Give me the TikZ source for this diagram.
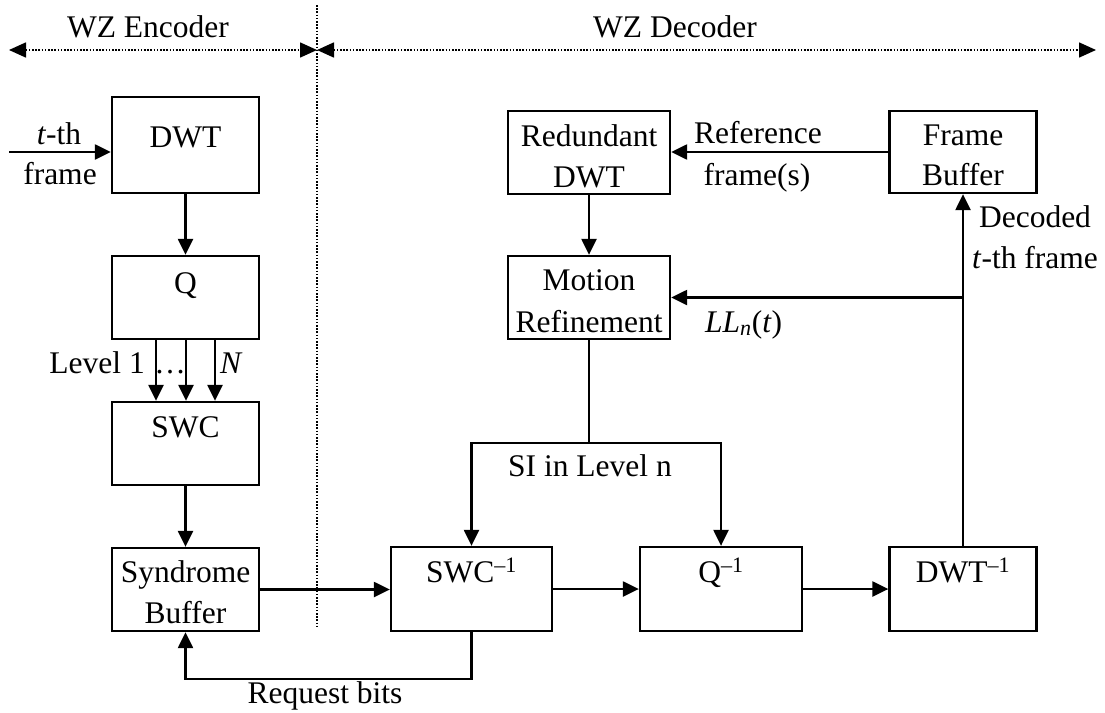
\documentclass[tikz,border=0pt]{standalone}
\usepackage{fontspec}
\setmainfont{Liberation Serif}
\usetikzlibrary{arrows.meta}
\begin{document}
\begin{tikzpicture}[x=1pt,y=1pt,
  font=\fontsize{31.5}{40}\selectfont,
  blk/.style={draw, line width=2.3pt, inner sep=0pt, minimum height=83pt},
  lbl/.style={anchor=base, inner sep=0pt},
  wire/.style={line width=2.3pt},
  arr/.style={line width=2.3pt, -{Triangle[length=16pt,width=15pt]}},
  zone/.style={line width=1.6pt, dash pattern=on 1.6pt off 1.6pt,
    {Triangle[length=17pt,width=15pt]}-{Triangle[length=17pt,width=15pt]}},
  divider/.style={line width=1.6pt, dash pattern=on 1.6pt off 1.6pt}]
\useasboundingbox (0,0) rectangle (1105,-712);

% encoder / decoder extents
\coordinate (zl) at (9,-50);
\coordinate (zm) at (317,-50);
\coordinate (zr) at (1096,-50);
\draw[zone] (zl) -- (zm);
\draw[zone] (zm) -- (zr);
\coordinate (dtop) at (317,-5);
\coordinate (dbot) at (317,-628);
\draw[divider] (dtop) -- (dbot);
\node[lbl] (enc) at (148,-37) {WZ Encoder};
\node[lbl] (dec) at (675,-37) {WZ Decoder};

% encoder blocks
\node[blk, minimum width=147pt, minimum height=96pt] (dwt) at (185.5,-145) {};
\node[blk, minimum width=147pt] (q)   at (185.5,-297.5) {};
\node[blk, minimum width=147pt] (swc) at (185.5,-443.5) {};
\node[blk, minimum width=147pt] (syn) at (185.5,-589.5) {};

\node[lbl] (dwtT) at (185.5,-147) {DWT};
\node[lbl] (qT)   at (185.5,-293) {Q};
\node[lbl] (swcT) at (185.5,-437) {SWC};
\node[lbl] (synT) at (185.5,-582) {Syndrome};
\node[lbl] (synB) at (185.5,-623) {Buffer};

% decoder blocks
\node[blk, minimum width=161pt, minimum height=84pt] (iswc) at (471.5,-589) {};
\node[blk, minimum width=162pt, minimum height=84pt] (iq)   at (721,-589) {};
\node[blk, minimum width=147pt, minimum height=84pt] (idwt) at (963,-589) {};
\node[blk, minimum width=162pt] (rdwt) at (589,-152.5) {};
\node[blk, minimum width=162pt] (mr)   at (589,-297.5) {};
\node[blk, minimum width=147pt, minimum height=82pt] (fb) at (963,-152) {};

\node[lbl] (iswcT) at (471.5,-582) {SWC\textsuperscript{–1}};
\node[lbl] (iqT)   at (721,-582) {Q\textsuperscript{–1}};
\node[lbl] (idwtT) at (963,-582) {DWT\textsuperscript{–1}};
\node[lbl] (rdwtT) at (589,-146) {Redundant};
\node[lbl] (rdwtB) at (589,-187) {DWT};
\node[lbl] (mrT)   at (589,-290) {Motion};
\node[lbl] (mrB)   at (589,-332) {Refinement};
\node[lbl] (fbT)   at (963,-145) {Frame};
\node[lbl] (fbB)   at (963,-185) {Buffer};

% encoder connectors
\coordinate (src) at (9,-152);
\draw[arr] (src) -- (src -| dwt.west);
\node[lbl] (srcT) at (59,-144) {\textit{t}-th};
\node[lbl] (srcB) at (60,-184) {frame};
\draw[arr] (dwt.south) -- (q.north);
\draw[arr] ([xshift=-29.5pt]q.south) -- ([xshift=-29.5pt]swc.north);
\draw[arr] ([xshift=0.5pt]q.south) -- ([xshift=0.5pt]swc.north);
\draw[arr] ([xshift=29.5pt]q.south) -- ([xshift=29.5pt]swc.north);
\node[lbl, anchor=base east] (lv1) at (145,-373) {Level 1};
\node[lbl] (lvd) at (170,-373) {…};
\node[lbl, anchor=base west] (lvN) at (220,-373) {\textit{N}};
\draw[arr] (swc.south) -- (syn.north);
\draw[arr] (syn.east) -- (syn.east -| iswc.west);

% request bits feedback
\coordinate (rqy) at (0,-679);
\coordinate (rq) at (iswc.south |- rqy);
\draw[arr] (iswc.south) -- (rq) -| (syn.south);
\node[lbl] (rqT) at (325,-703) {Request bits};

% decoder connectors
\draw[arr] (iswc.east) -- (iswc.east -| iq.west);
\draw[arr] (iq.east) -- (iq.east -| idwt.west);
\draw[arr] (idwt.north) -- (fb.south);
\node[lbl] (decT) at (1035,-227) {Decoded};
\node[lbl] (decB) at (1035,-268) {\textit{t}-th frame};
\coordinate (jn) at (idwt.north |- mr.east);
\draw[arr] (jn) -- (mr.east);
\node[lbl, anchor=base west] (llT) at (705,-332) {\textit{LL}\textsubscript{\textit{n}}(\textit{t})};
\draw[arr] (fb.west) -- (fb.west -| rdwt.east);
\node[lbl] (refT) at (758,-143) {Reference};
\node[lbl] (refB) at (757,-185) {frame(s)};
\draw[arr] (rdwt.south) -- (mr.north);

% side information split
\coordinate (siy) at (0,-443);
\coordinate (si) at (mr.south |- siy);
\draw[wire] (mr.south) -- (si);
\draw[arr] (si) -| (iswc.north);
\draw[arr] (si) -| (iq.north);
\node[lbl] (siT) at (590,-476) {SI in Level n};
\end{tikzpicture}
\end{document}
